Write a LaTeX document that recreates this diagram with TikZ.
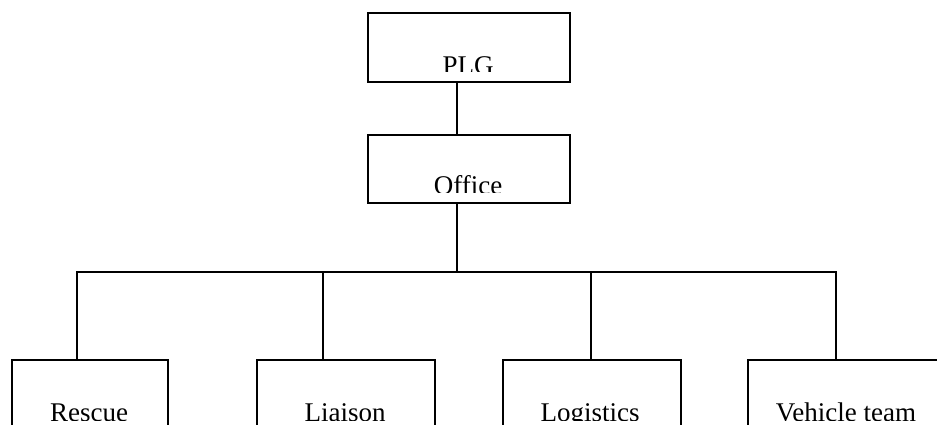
\documentclass[tikz,border=0pt]{standalone}
\usepackage{fontspec}
\setmainfont{Liberation Serif}
\begin{document}
\begin{tikzpicture}[x=1pt,y=1pt,
 box/.style={draw=black,line width=2pt,rectangle,inner sep=0pt,anchor=north west},
 lbl/.style={anchor=base,inner sep=0pt,font=\fontsize{27}{32}\selectfont},
 conn/.style={draw=black,line width=2pt,line cap=rect}]
\clip (0,0) rectangle (937,425);
% boxes
\node[box,minimum width=202pt,minimum height=69pt] (plg) at (367,413) {};
\node[box,minimum width=202pt,minimum height=68pt] (office) at (367,291) {};
\node[box,minimum width=156pt,minimum height=95pt] (rescue) at (11,66) {};
\node[box,minimum width=178pt,minimum height=95pt] (liaison) at (256,66) {};
\node[box,minimum width=178pt,minimum height=95pt] (logistics) at (502,66) {};
\node[box,minimum width=198pt,minimum height=95pt] (vehicle) at (747,66) {};
% clipped labels
\begin{scope}\clip (367,353) rectangle (569,413);
\node[lbl] (plgtext) at (468,350) {PLG};\end{scope}
\begin{scope}\clip (367,232.5) rectangle (569,291);
\node[lbl] (officetext) at (468,230) {Office};\end{scope}
\begin{scope}\clip (0,4.5) rectangle (937,66);
\node[lbl] (rescuetext) at (89,3.5) {Rescue};
\node[lbl] (liaisontext) at (345,3.5) {Liaison};
\node[lbl] (logisticstext) at (590,3.5) {Logistics};
\node[lbl] (vehicletext) at (846,3.5) {Vehicle team};
\end{scope}
% connectors
\coordinate (t) at (457,153);
\coordinate (a1) at (77,153);
\coordinate (a2) at (323,153);
\coordinate (a3) at (591,153);
\coordinate (a4) at (836,153);
\draw[conn] (plg.south -| t) -- (office.north -| t);
\draw[conn] (office.south -| t) -- (t);
\draw[conn] (a1) -- (a4);
\draw[conn] (a1) -- (rescue.north -| a1);
\draw[conn] (a2) -- (liaison.north -| a2);
\draw[conn] (a3) -- (logistics.north -| a3);
\draw[conn] (a4) -- (vehicle.north -| a4);
\end{tikzpicture}
\end{document}
